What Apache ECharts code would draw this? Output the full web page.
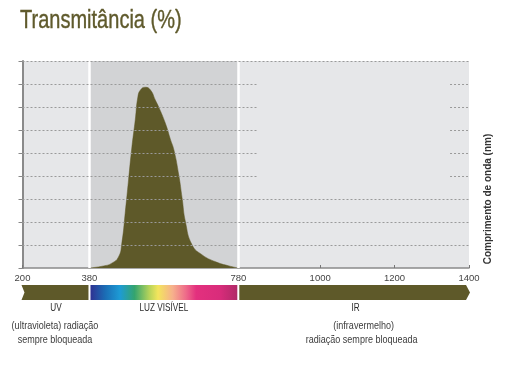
<!DOCTYPE html>
<html>
<head>
<meta charset="utf-8">
<script src="https://cdn.jsdelivr.net/npm/echarts@6/dist/echarts.min.js"></script>
<style>
html,body{margin:0;padding:0;background:#fff;}
#chart{width:506px;height:369px;}
</style>
</head>
<body>
<div id="chart"></div>
<script>
// ---- data ----
const titleText = 'Transmitância (%)';
const axisName = 'Comprimento de onda (nm)';
const xTickValues = [200, 380, 780, 1000, 1200, 1400];
const wavelengths = [380, 418, 439, 458, 467, 476, 485, 494, 503, 510, 517, 530, 544, 557, 566, 584, 598, 607, 620, 629, 638, 656, 683, 719, 755, 780];
const transmittance = [0, 0.09, 0.2, 0.48, 1.09, 2.39, 3.83, 5.26, 6.43, 7.43, 7.74, 7.86, 7.74, 7.3, 7.0, 6.29, 5.57, 5.13, 4.04, 3.04, 2.0, 1.0, 0.57, 0.27, 0.09, 0];
const bandStart = [200, 380, 780];
const bandEnd = [380, 780, 1400];
const bandNames = ['UV', 'LUZ VISÍVEL', 'IR'];
const bandDesc1 = ['(ultravioleta) radiação', '', '(infravermelho)'];
const bandDesc2 = ['sempre bloqueada', '', 'radiação sempre bloqueada'];
const gridRows = [1, 2, 3, 4, 5, 6, 7, 8, 9];
const brokenRows = [4, 5, 6, 7, 8];
const gapFrom = 832, gapTo = 1349;

// ---- styling ----
const OLIVE = '#5e5929';
const SANS = '"Liberation Sans",Arial,sans-serif';
const NARROW_SCALE = 0.82;

const chart = echarts.init(document.getElementById('chart'), null, {renderer: 'canvas'});

const gridLineData = [];
gridRows.forEach(v => {
  if (brokenRows.indexOf(v) >= 0) {
    gridLineData.push([{coord: [200, v]}, {coord: [gapFrom, v]}]);
    gridLineData.push([{coord: [gapTo, v]}, {coord: [1400, v]}]);
  } else {
    gridLineData.push([{coord: [200, v]}, {coord: [1400, v]}]);
  }
});

const spectrum = new echarts.graphic.LinearGradient(0, 0, 1, 0, [
  {offset: 0, color: '#2e3192'},
  {offset: 0.1, color: '#1b6db5'},
  {offset: 0.2, color: '#1d9bd5'},
  {offset: 0.3, color: '#34a46e'},
  {offset: 0.4, color: '#b5d35a'},
  {offset: 0.46, color: '#f3e55d'},
  {offset: 0.56, color: '#f6b08c'},
  {offset: 0.65, color: '#ee6b8a'},
  {offset: 0.72, color: '#e3307e'},
  {offset: 0.88, color: '#d92c7b'},
  {offset: 1, color: '#b02a68'}
]);

function narrowText(text, x, y, size, color) {
  return {
    type: 'text', x: x, y: y, scaleX: NARROW_SCALE,
    style: {text: text, x: 0, y: 0, align: 'center', verticalAlign: 'middle', fill: color, fontSize: size, fontFamily: SANS}
  };
}

function renderBand(params, api) {
  const i = params.dataIndex;
  const p0 = api.coord([api.value(0), 0]);
  const p1 = api.coord([api.value(1), 0]);
  const base = p0[1];
  const top = base + 17, bot = base + 32, mid = (top + bot) / 2;
  const x0 = p0[0], x1 = p1[0];
  const cx = (x0 + x1) / 2;
  const children = [];
  if (i === 0) {
    children.push({type: 'polygon', shape: {points: [[x0 - 1, top], [x1 - 1, top], [x1 - 1, bot], [x0 - 1, bot], [x0 + 2, mid]]}, style: {fill: OLIVE}});
  } else if (i === 1) {
    children.push({type: 'rect', shape: {x: x0 + 1, y: top, width: x1 - x0 - 2, height: bot - top}, style: {fill: spectrum}});
  } else {
    children.push({type: 'polygon', shape: {points: [[x0 + 1, top], [x1 - 3, top], [x1 + 1, mid], [x1 - 3, bot], [x0 + 1, bot]]}, style: {fill: OLIVE}});
  }
  children.push(narrowText(bandNames[i], cx + (i === 2 ? 2 : 0), base + 40.5, 10, '#2a2a2a'));
  if (bandDesc1[i]) children.push(narrowText(bandDesc1[i], cx + (i === 2 ? 10 : -1), base + 57.5, 11, '#3c3c3c'));
  if (bandDesc2[i]) children.push(narrowText(bandDesc2[i], cx + (i === 2 ? 8 : -1), base + 71.5, 11, '#3c3c3c'));
  return {type: 'group', children: children};
}

const option = {
  animation: false,
  grid: {left: 22.5, right: 37, top: 61, bottom: 101, show: true, backgroundColor: '#e6e7e9', borderWidth: 0},
  xAxis: {
    type: 'value', min: 200, max: 1400,
    axisLine: {show: true, lineStyle: {color: '#8a8a8a', width: 1.5}},
    axisTick: {show: true, inside: true, length: 3, customValues: xTickValues, lineStyle: {color: '#777'}},
    axisLabel: {customValues: xTickValues, formatter: v => String(v), fontFamily: SANS, fontSize: 9.5, color: '#444', margin: 5},
    splitLine: {show: false}
  },
  yAxis: {
    type: 'value', min: 0, max: 9, interval: 1,
    axisLine: {show: true, lineStyle: {color: '#8a8a8a', width: 2}},
    axisTick: {show: true, length: 4, lineStyle: {color: '#888'}},
    axisLabel: {show: false},
    splitLine: {show: false}
  },
  graphic: [
    {
      type: 'text', x: 20, y: 21, scaleX: 0.77,
      style: {text: titleText, x: 0, y: 0, align: 'left', verticalAlign: 'middle', fontFamily: SANS, fontSize: 26, fill: '#5f5a2c', stroke: '#5f5a2c', lineWidth: 0.4}
    },
    {
      type: 'text', x: 488, y: 199, rotation: Math.PI / 2,
      style: {text: axisName, align: 'center', verticalAlign: 'middle', fontFamily: SANS, fontWeight: 'bold', fontSize: 10, fill: '#333'}
    }
  ],
  series: [
    {
      type: 'line', data: [], z: 1, silent: true,
      markArea: {silent: true, itemStyle: {color: '#d2d3d5'}, data: [[{xAxis: 380}, {xAxis: 780}]]},
      markLine: {silent: true, symbol: 'none', label: {show: false}, lineStyle: {color: '#ffffff', width: 2.5, type: 'solid'}, data: [{xAxis: 380}, {xAxis: 780}]}
    },
    {
      type: 'line', data: [], z: 2, silent: true,
      markLine: {silent: true, symbol: 'none', label: {show: false}, lineStyle: {color: '#9a9a9a', width: 1, type: [2, 2]}, data: gridLineData}
    },
    {
      type: 'line', z: 3, silent: true, smooth: 0.5, showSymbol: false,
      data: wavelengths.map((w, i) => [w, transmittance[i]]),
      lineStyle: {width: 0.5, color: OLIVE},
      areaStyle: {color: OLIVE, opacity: 1}
    },
    {
      type: 'custom', z: 4, silent: true, clip: false,
      data: bandStart.map((s, i) => [s, bandEnd[i], 0]),
      encode: {x: [0, 1], y: 2},
      renderItem: renderBand
    }
  ]
};
chart.setOption(option);
</script>
</body>
</html>
